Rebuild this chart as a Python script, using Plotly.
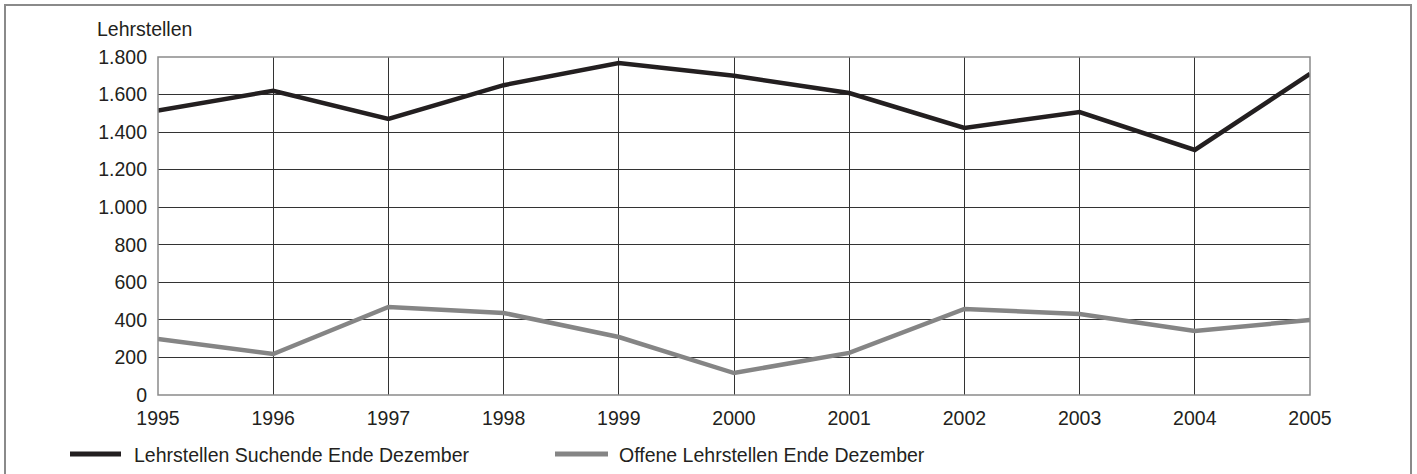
import plotly.graph_objects as go

years = [1995, 1996, 1997, 1998, 1999, 2000, 2001, 2002, 2003, 2004, 2005]
suchende = [1515, 1620, 1470, 1650, 1768, 1700, 1608, 1422, 1507, 1305, 1710]
offene = [298, 218, 469, 437, 309, 117, 224, 458, 431, 341, 399]

name_suchende = "Lehrstellen Suchende Ende Dezember"
name_offene = "Offene Lehrstellen Ende Dezember"
y_ticks = [0, 200, 400, 600, 800, 1000, 1200, 1400, 1600, 1800]

W, H = 1417, 474
L, R, T, B = 158, 107, 57, 79
pw, ph = W - L - R, H - T - B


def px(x):
    return (x - L) / pw


def py(y):
    return (H - B - y) / ph


DARK = "#231f20"
GREY = "#858585"
FONT = "Liberation Sans, Arial, sans-serif"
FS = 19.5

fig = go.Figure()
fig.add_trace(go.Scatter(x=years, y=suchende, mode="lines", name=name_suchende,
                         line=dict(color=DARK, width=4.5)))
fig.add_trace(go.Scatter(x=years, y=offene, mode="lines", name=name_offene,
                         line=dict(color=GREY, width=4.5)))

shapes = [
    # outer frame
    dict(type="rect", xref="paper", yref="paper",
         x0=px(5), x1=px(1411), y0=py(485), y1=py(5),
         line=dict(color="#8a8a8a", width=2), layer="below"),
    # plot area border
    dict(type="rect", xref="paper", yref="paper", x0=0, x1=1, y0=0, y1=1,
         line=dict(color="#8a8a8a", width=1.5), layer="above"),
    # legend swatches
    dict(type="line", xref="paper", yref="paper",
         x0=px(70), x1=px(121), y0=py(454), y1=py(454),
         line=dict(color=DARK, width=5)),
    dict(type="line", xref="paper", yref="paper",
         x0=px(555), x1=px(608), y0=py(454), y1=py(454),
         line=dict(color=GREY, width=5)),
]

annotations = [
    dict(text="Lehrstellen", xref="paper", yref="paper", x=px(95), y=py(29),
         xanchor="left", yanchor="middle", showarrow=False,
         font=dict(size=FS, color=DARK, family=FONT)),
    dict(text=name_suchende, xref="paper", yref="paper", x=px(132), y=py(455),
         xanchor="left", yanchor="middle", showarrow=False,
         font=dict(size=FS, color=DARK, family=FONT)),
    dict(text=name_offene, xref="paper", yref="paper", x=px(617), y=py(455),
         xanchor="left", yanchor="middle", showarrow=False,
         font=dict(size=FS, color=DARK, family=FONT)),
]

fig.update_layout(
    width=W, height=H,
    margin=dict(l=L, r=R, t=T, b=B, pad=0),
    paper_bgcolor="white", plot_bgcolor="white",
    showlegend=False,
    separators=",.",
    font=dict(family=FONT, size=FS, color=DARK),
    shapes=shapes, annotations=annotations,
    xaxis=dict(range=[1995, 2005], tickvals=years, ticktext=[str(y) for y in years],
               showgrid=True, gridcolor="#333333", gridwidth=1,
               zeroline=False, showline=False, ticks="", ticklabelstandoff=9,
               tickfont=dict(size=FS, color=DARK, family=FONT)),
    yaxis=dict(range=[0, 1800], tickvals=y_ticks, tickformat=",d",
               separatethousands=True,
               showgrid=True, gridcolor="#333333", gridwidth=1,
               zeroline=False, showline=False, ticks="", ticklabelstandoff=10,
               tickfont=dict(size=FS, color=DARK, family=FONT)),
)

fig.write_html("out.html")
